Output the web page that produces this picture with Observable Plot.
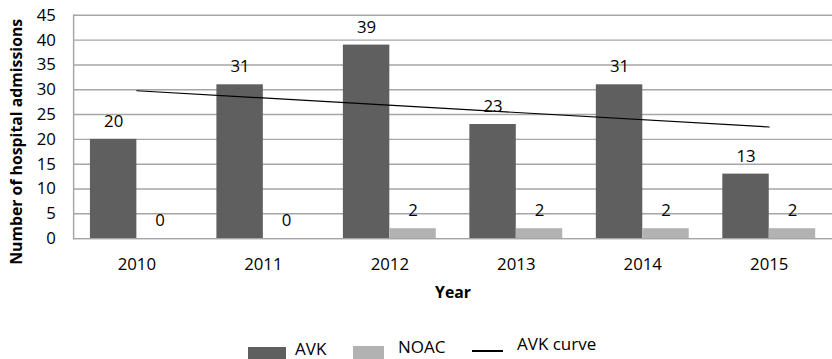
<!DOCTYPE html>
<html>
<head>
<meta charset="utf-8">
<script src="https://cdn.jsdelivr.net/npm/d3@7"></script>
<script src="https://cdn.jsdelivr.net/npm/@observablehq/plot@0.6"></script>
<style>
  html, body { margin: 0; padding: 0; background: #fff; width: 832px; height: 359px; overflow: hidden; position: relative; }
  #chart svg { display: block; }
  .leg { position: absolute; font-family: "Open Sans", sans-serif; font-size: 17px; line-height: 17px; color: #000; white-space: nowrap; }
  .sw { position: absolute; }
</style>
</head>
<body>
<div id="chart"></div>
<div class="sw" style="left:248px; top:347px; width:38px; height:12px; background:#5f5f5f;"></div>
<div class="leg" style="left:295px; top:340px;">AVK</div>
<div class="sw" style="left:353px; top:346px; width:31px; height:13px; background:#b2b2b2;"></div>
<div class="leg" style="left:398px; top:338px;">NOAC</div>
<div class="sw" style="left:472px; top:350px; width:31px; height:1.5px; background:#000;"></div>
<div class="leg" style="left:517px; top:335px;">AVK curve</div>
<script>
const years = ["2010", "2011", "2012", "2013", "2014", "2015"];
const avk = [20, 31, 39, 23, 31, 13];
const noac = [0, 0, 2, 2, 2, 2];
const trendYears = ["2010", "2015"];
const trendValues = [29.8, 22.5];
const yTicks = [0, 5, 10, 15, 20, 25, 30, 35, 40, 45];

const avkRows = years.map((year, i) => ({year, value: avk[i]}));
const noacRows = years.map((year, i) => ({year, value: noac[i]}));
const trendRows = trendYears.map((year, i) => ({year, value: trendValues[i]}));

const grid = "#a6a6a6";
const chart = Plot.plot({
  width: 842,
  height: 310,
  marginLeft: 74,
  marginRight: 0,
  marginTop: 15,
  marginBottom: 69,
  style: {fontFamily: "Open Sans, sans-serif", fontSize: "17px", color: "#000", background: "#fff", overflow: "visible"},
  x: {domain: years, padding: 0, label: null, tickSize: 0, tickPadding: 20},
  y: {domain: [0, 45], ticks: yTicks, tickSize: 0, tickPadding: 18, label: null},
  marks: [
    Plot.gridY(yTicks, {stroke: grid, strokeOpacity: 1, strokeWidth: 1.5}),
    Plot.barY(avkRows, {x: "year", y: "value", fill: "#5f5f5f", insetLeft: 17, insetRight: 64}),
    Plot.barY(noacRows, {x: "year", y: "value", fill: "#b2b2b2", insetLeft: 64, insetRight: 17}),
    Plot.ruleY([0], {stroke: grid, strokeWidth: 1.5}),
    Plot.frame({anchor: "left", stroke: grid, strokeWidth: 1.5}),
    Plot.line(trendRows, {x: "year", y: "value", stroke: "#000", strokeWidth: 1.2}),
    Plot.text(avkRows, {x: "year", y: "value", text: d => String(d.value), dx: -23.5, dy: -18, fill: "#000"}),
    Plot.text(noacRows, {x: "year", y: "value", text: d => String(d.value), dx: 23.5, dy: -18, fill: "#000"}),
    Plot.text(["Year"], {frameAnchor: "bottom", lineAnchor: "middle", dy: 55, fontWeight: "bold", fontSize: 16, fill: "#000"}),
    Plot.text(["Number of hospital admissions"], {frameAnchor: "left", textAnchor: "middle", lineAnchor: "middle", dx: -57, dy: 15, rotate: -90, fontWeight: "bold", fontSize: 16, fill: "#000"})
  ]
});
document.getElementById("chart").appendChild(chart);
</script>
</body>
</html>
